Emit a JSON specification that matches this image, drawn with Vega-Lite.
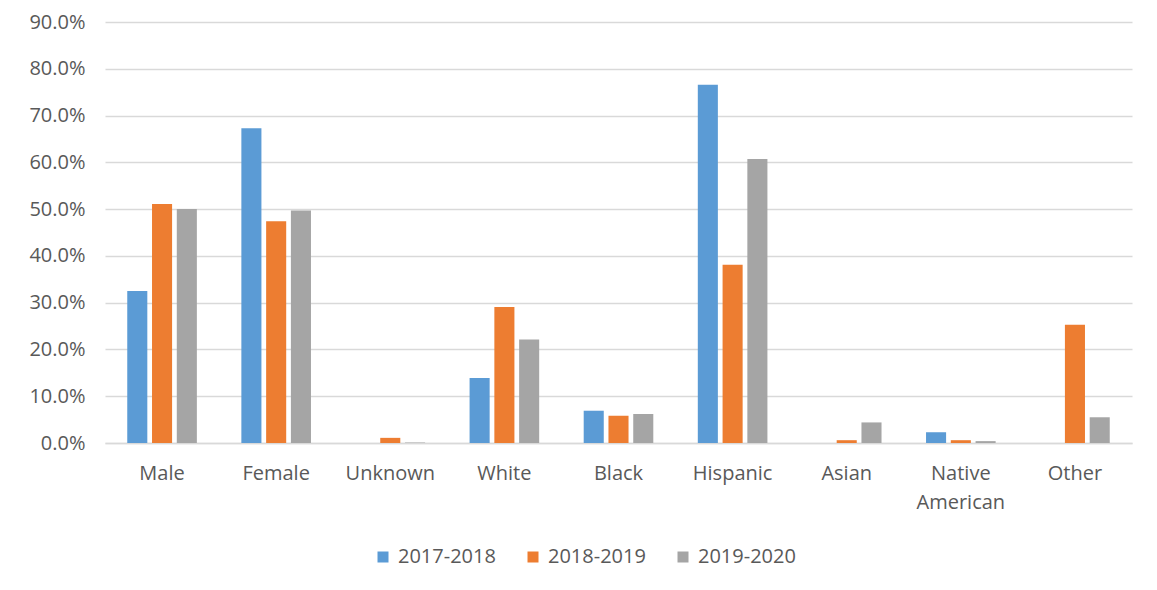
{
  "$schema": "https://vega.github.io/schema/vega-lite/v6.json",
  "width": 1027,
  "height": 421,
  "autosize": {"type": "none"},
  "padding": {"left": 105, "top": 22, "right": 25, "bottom": 147},
  "background": "white",
  "data": {
    "values": [
      {"group": "Male", "year": "2017-2018", "share": 0.325},
      {"group": "Male", "year": "2018-2019", "share": 0.511},
      {"group": "Male", "year": "2019-2020", "share": 0.500},
      {"group": "Female", "year": "2017-2018", "share": 0.673},
      {"group": "Female", "year": "2018-2019", "share": 0.474},
      {"group": "Female", "year": "2019-2020", "share": 0.497},
      {"group": "Unknown", "year": "2017-2018", "share": 0.0},
      {"group": "Unknown", "year": "2018-2019", "share": 0.011},
      {"group": "Unknown", "year": "2019-2020", "share": 0.001},
      {"group": "White", "year": "2017-2018", "share": 0.139},
      {"group": "White", "year": "2018-2019", "share": 0.291},
      {"group": "White", "year": "2019-2020", "share": 0.221},
      {"group": "Black", "year": "2017-2018", "share": 0.069},
      {"group": "Black", "year": "2018-2019", "share": 0.058},
      {"group": "Black", "year": "2019-2020", "share": 0.062},
      {"group": "Hispanic", "year": "2017-2018", "share": 0.766},
      {"group": "Hispanic", "year": "2018-2019", "share": 0.381},
      {"group": "Hispanic", "year": "2019-2020", "share": 0.607},
      {"group": "Asian", "year": "2017-2018", "share": 0.0},
      {"group": "Asian", "year": "2018-2019", "share": 0.006},
      {"group": "Asian", "year": "2019-2020", "share": 0.044},
      {"group": "Native American", "year": "2017-2018", "share": 0.023},
      {"group": "Native American", "year": "2018-2019", "share": 0.006},
      {"group": "Native American", "year": "2019-2020", "share": 0.004},
      {"group": "Other", "year": "2017-2018", "share": 0.0},
      {"group": "Other", "year": "2018-2019", "share": 0.253},
      {"group": "Other", "year": "2019-2020", "share": 0.055}
    ]
  },
  "mark": {"type": "bar"},
  "encoding": {
    "x": {
      "field": "group",
      "type": "nominal",
      "sort": null,
      "scale": {"paddingInner": 0.39, "paddingOuter": 0.195},
      "axis": {
        "title": null,
        "labelAngle": 0,
        "labelFont": "Open Sans",
        "labelFontSize": 20,
        "labelColor": "#595959",
        "labelPadding": 20,
        "labelLineHeight": 29,
        "labelExpr": "datum.label == 'Native American' ? ['Native', 'American'] : datum.label",
        "ticks": false,
        "domainColor": "#d9d9d9",
        "domainWidth": 1.5
      }
    },
    "xOffset": {
      "field": "year",
      "type": "nominal",
      "scale": {"paddingInner": 0.19}
    },
    "y": {
      "field": "share",
      "type": "quantitative",
      "scale": {"domain": [0, 0.9], "nice": false},
      "axis": {
        "title": null,
        "format": ".1%",
        "values": [0, 0.1, 0.2, 0.3, 0.4, 0.5, 0.6, 0.7, 0.8, 0.9],
        "labelFont": "Open Sans",
        "labelFontSize": 20,
        "labelColor": "#595959",
        "labelPadding": 20,
        "ticks": false,
        "domain": false,
        "gridColor": "#d9d9d9",
        "gridWidth": 1.5
      }
    },
    "color": {
      "field": "year",
      "type": "nominal",
      "scale": {
        "domain": ["2017-2018", "2018-2019", "2019-2020"],
        "range": ["#5B9BD5", "#ED7D31", "#A5A5A5"]
      },
      "legend": {
        "title": null,
        "orient": "none",
        "legendX": 268,
        "legendY": 525,
        "direction": "horizontal",
        "symbolType": "square",
        "symbolSize": 121,
        "symbolStrokeWidth": 0,
        "labelFont": "Open Sans",
        "labelFontSize": 20,
        "labelColor": "#595959",
        "labelOffset": 5,
        "columnPadding": 27
      }
    }
  },
  "config": {
    "view": {"stroke": null}
  }
}
